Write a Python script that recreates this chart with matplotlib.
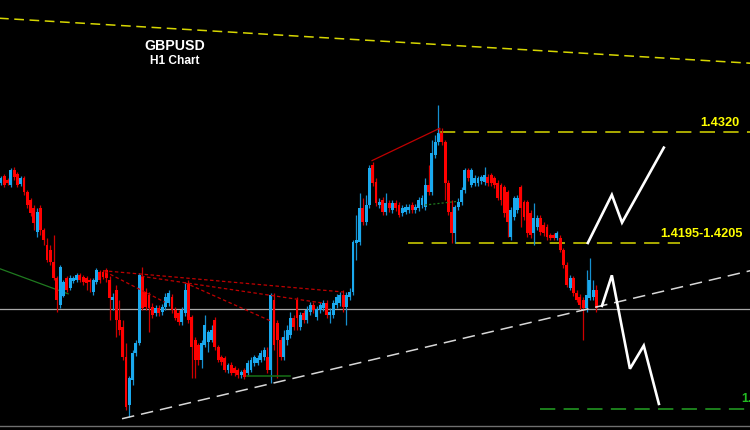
import numpy as np
import matplotlib
matplotlib.use('Agg')
import matplotlib.pyplot as plt

plt.rcParams['lines.scale_dashes'] = False

# ---------------- data (GBPUSD H1 candles) ----------------
opens = [1.4265,1.4272,1.4268,1.4263,1.4279,1.4275,1.4264,1.4270,1.4255,1.4246,
 1.4238,1.4212,1.4238,1.4214,1.4198,1.4192,1.4179,1.4162,1.4133,1.4143,
 1.4162,1.4151,1.4159,1.4160,1.4165,1.4163,1.4162,1.4160,1.4147,1.4158,
 1.4169,1.4169,1.4171,1.4160,1.4138,1.4149,1.4117,1.4109,1.4077,1.4025,
 1.4052,1.4081,1.4092,1.4163,1.4147,1.4144,1.4131,1.4124,1.4130,1.4125,
 1.4131,1.4135,1.4142,1.4128,1.4124,1.4115,1.4124,1.4157,1.4120,1.4095,
 1.4090,1.4073,1.4090,1.4093,1.4095,1.4117,1.4088,1.4077,1.4076,1.4063,
 1.4068,1.4065,1.4063,1.4057,1.4063,1.4059,1.4063,1.4070,1.4070,1.4073,
 1.4077,1.4077,1.4063,1.4138,1.4113,1.4095,1.4077,1.4095,1.4100,1.4119,
 1.4138,1.4109,1.4124,1.4117,1.4125,1.4133,1.4120,1.4128,1.4130,1.4135,
 1.4122,1.4122,1.4133,1.4135,1.4144,1.4131,1.4142,1.4147,1.4200,1.4201,
 1.4238,1.4223,1.4241,1.4284,1.4266,1.4241,1.4246,1.4233,1.4243,1.4236,
 1.4243,1.4241,1.4232,1.4233,1.4236,1.4241,1.4236,1.4238,1.4241,1.4239,
 1.4263,1.4255,1.4295,1.4309,1.4319,1.4309,1.4265,1.4233,1.4211,1.4239,
 1.4244,1.4257,1.4279,1.4263,1.4265,1.4265,1.4267,1.4266,1.4271,1.4273,
 1.4270,1.4265,1.4263,1.4260,1.4255,1.4206,1.4228,1.4236,1.4260,1.4244,
 1.4244,1.4232,1.4211,1.4217,1.4227,1.4219,1.4217,1.4209,1.4209,1.4205,
 1.4205,1.4192,1.4176,1.4151,1.4162,1.4146,1.4142,1.4138,1.4130,1.4140,
 1.4142,1.4149]

highs = [1.4272,1.4275,1.4270,1.4281,1.4282,1.4277,1.4272,1.4272,1.4257,1.4249,
 1.4241,1.4238,1.4241,1.4216,1.4205,1.4198,1.4209,1.4164,1.4176,1.4160,
 1.4164,1.4165,1.4164,1.4168,1.4168,1.4165,1.4164,1.4162,1.4162,1.4173,
 1.4171,1.4171,1.4173,1.4164,1.4146,1.4155,1.4138,1.4117,1.4092,1.4056,
 1.4084,1.4095,1.4168,1.4174,1.4151,1.4147,1.4135,1.4133,1.4133,1.4134,
 1.4146,1.4149,1.4145,1.4131,1.4128,1.4131,1.4157,1.4160,1.4122,1.4098,
 1.4092,1.4095,1.4122,1.4106,1.4111,1.4120,1.4090,1.4079,1.4078,1.4070,
 1.4071,1.4067,1.4065,1.4063,1.4065,1.4073,1.4077,1.4079,1.4079,1.4084,
 1.4088,1.4088,1.4146,1.4146,1.4117,1.4098,1.4106,1.4111,1.4125,1.4122,
 1.4142,1.4125,1.4128,1.4132,1.4136,1.4136,1.4132,1.4136,1.4138,1.4138,
 1.4130,1.4138,1.4145,1.4147,1.4149,1.4147,1.4151,1.4203,1.4230,1.4254,
 1.4249,1.4252,1.4284,1.4288,1.4270,1.4249,1.4250,1.4254,1.4246,1.4246,
 1.4246,1.4244,1.4241,1.4242,1.4242,1.4244,1.4242,1.4250,1.4252,1.4270,
 1.4284,1.4311,1.4317,1.4349,1.4324,1.4311,1.4268,1.4246,1.4241,1.4249,
 1.4260,1.4281,1.4281,1.4281,1.4273,1.4272,1.4273,1.4282,1.4275,1.4276,
 1.4272,1.4268,1.4265,1.4263,1.4257,1.4239,1.4251,1.4252,1.4263,1.4246,
 1.4246,1.4236,1.4243,1.4230,1.4230,1.4223,1.4220,1.4211,1.4211,1.4213,
 1.4209,1.4195,1.4179,1.4165,1.4164,1.4149,1.4145,1.4142,1.4171,1.4184,
 1.4160,1.4155]

lows = [1.4263,1.4260,1.4263,1.4260,1.4268,1.4260,1.4262,1.4252,1.4238,1.4229,
 1.4214,1.4206,1.4209,1.4198,1.4179,1.4176,1.4160,1.4125,1.4130,1.4142,
 1.4147,1.4149,1.4157,1.4158,1.4158,1.4155,1.4149,1.4147,1.4144,1.4156,
 1.4157,1.4161,1.4158,1.4117,1.4128,1.4098,1.4100,1.4073,1.4019,1.4012,
 1.4046,1.4078,1.4090,1.4128,1.4128,1.4104,1.4119,1.4121,1.4121,1.4122,
 1.4128,1.4132,1.4124,1.4117,1.4111,1.4111,1.4121,1.4113,1.4054,1.4054,
 1.4068,1.4065,1.4088,1.4082,1.4093,1.4084,1.4071,1.4068,1.4061,1.4059,
 1.4057,1.4056,1.4054,1.4054,1.4053,1.4056,1.4061,1.4067,1.4068,1.4071,
 1.4073,1.4059,1.4049,1.4084,1.4054,1.4073,1.4073,1.4090,1.4097,1.4106,
 1.4106,1.4106,1.4113,1.4113,1.4122,1.4124,1.4117,1.4124,1.4126,1.4119,
 1.4113,1.4119,1.4130,1.4132,1.4125,1.4111,1.4138,1.4144,1.4182,1.4198,
 1.4219,1.4219,1.4238,1.4262,1.4240,1.4238,1.4230,1.4230,1.4233,1.4232,
 1.4235,1.4228,1.4229,1.4231,1.4232,1.4232,1.4232,1.4235,1.4238,1.4236,
 1.4252,1.4252,1.4292,1.4306,1.4306,1.4246,1.4230,1.4200,1.4200,1.4236,
 1.4241,1.4254,1.4267,1.4260,1.4262,1.4262,1.4264,1.4263,1.4262,1.4262,
 1.4259,1.4246,1.4241,1.4228,1.4206,1.4203,1.4225,1.4232,1.4217,1.4225,
 1.4206,1.4205,1.4198,1.4214,1.4209,1.4207,1.4203,1.4203,1.4203,1.4203,
 1.4190,1.4173,1.4152,1.4149,1.4143,1.4136,1.4128,1.4095,1.4125,1.4138,
 1.4138,1.4125]

closes = [1.4270,1.4263,1.4265,1.4279,1.4271,1.4263,1.4270,1.4255,1.4241,1.4232,
 1.4222,1.4233,1.4214,1.4203,1.4182,1.4179,1.4162,1.4138,1.4174,1.4158,
 1.4149,1.4162,1.4162,1.4165,1.4160,1.4158,1.4157,1.4158,1.4160,1.4171,
 1.4160,1.4163,1.4162,1.4140,1.4142,1.4117,1.4106,1.4077,1.4023,1.4054,
 1.4081,1.4092,1.4165,1.4130,1.4131,1.4130,1.4122,1.4130,1.4124,1.4131,
 1.4142,1.4146,1.4128,1.4119,1.4115,1.4128,1.4149,1.4117,1.4088,1.4073,
 1.4073,1.4092,1.4111,1.4104,1.4106,1.4088,1.4073,1.4071,1.4063,1.4068,
 1.4059,1.4059,1.4057,1.4061,1.4055,1.4070,1.4073,1.4077,1.4076,1.4081,
 1.4084,1.4063,1.4144,1.4090,1.4095,1.4077,1.4098,1.4106,1.4119,1.4109,
 1.4119,1.4122,1.4117,1.4128,1.4133,1.4128,1.4129,1.4133,1.4135,1.4122,
 1.4125,1.4135,1.4142,1.4144,1.4131,1.4144,1.4147,1.4201,1.4203,1.4238,
 1.4223,1.4241,1.4281,1.4265,1.4243,1.4244,1.4233,1.4243,1.4238,1.4243,
 1.4238,1.4230,1.4238,1.4239,1.4239,1.4236,1.4239,1.4246,1.4249,1.4263,
 1.4255,1.4297,1.4309,1.4319,1.4309,1.4265,1.4233,1.4211,1.4239,1.4244,
 1.4257,1.4279,1.4270,1.4279,1.4270,1.4270,1.4271,1.4273,1.4265,1.4265,
 1.4263,1.4249,1.4246,1.4232,1.4223,1.4236,1.4249,1.4249,1.4238,1.4228,
 1.4211,1.4209,1.4227,1.4227,1.4212,1.4211,1.4206,1.4205,1.4205,1.4211,
 1.4192,1.4176,1.4155,1.4162,1.4146,1.4138,1.4133,1.4130,1.4144,1.4160,
 1.4149,1.4130]

# drawn objects: (bar index, price)
top_trend_x, top_trend_y = [-1, 229], [1.4443, 1.4394]
support_x, support_y = [36.8, 229], [1.4010, 1.4171]
current_price = 1.4129
resistance_level, resistance_x = 1.4320, [133.4, 229]
pivot_level, pivot_x = 1.4200, [123.7, 206.4]
target_level, target_x = 1.4020, [163.8, 229]
ma_x, ma_y = [-1, 20.4], [1.4173, 1.4145]
red_trend_x, red_trend_y = [112.8, 133.4, 133.4], [1.4289, 1.4324, 1.4319]
red_dot_lines = [
    ([31.0, 104.0], [1.4170, 1.4147]),
    ([42.6, 97.9], [1.4164, 1.4135]),
    ([31.6, 49.8], [1.4169, 1.4136]),
    ([55.9, 82.4], [1.4157, 1.4115]),
]
green_dot_x, green_dot_y = [128.9, 138.9], [1.4241, 1.4245]
green_base_x, green_base_y = [74.8, 87.8], [1.4056, 1.4056]
zig_up_x = [178.4, 185.7, 188.8, 201.5]
zig_up_y = [1.4200, 1.4252, 1.4222, 1.4303]
zig_dn_x = [182.7, 185.7, 191.2, 195.4, 200.0]
zig_dn_y = [1.4132, 1.4165, 1.4064, 1.4089, 1.4026]
bottom_border = 1.40021

# ---------------- figure ----------------
fig = plt.figure(figsize=(7.5, 4.3), dpi=100, facecolor='black')
ax = fig.add_axes([0, 0, 1, 1])
ax.set_facecolor('black')
ax.set_xlim(-0.3, 227.7)
ax.set_ylim(1.39978, 1.44626)
ax.axis('off')

o = np.array(opens); h = np.array(highs); l = np.array(lows); c = np.array(closes)
idx = np.arange(len(o))
bull = c >= o
BLUE = '#1aa9ee'
RED = '#ff0000'
body_col = np.where(bull, BLUE, RED)
wick_col = np.where(bull, '#1690d0', '#d00000')

ax.vlines(idx, l, h, colors=wick_col, linewidth=0.9, zorder=3)
bottoms = np.minimum(o, c)
heights = np.maximum(np.abs(c - o), 0.00012)
ax.bar(idx, heights, bottom=bottoms, width=0.88, color=body_col,
       linewidth=0, zorder=4)

# horizontal / trend lines
ax.plot(top_trend_x, top_trend_y, color='#d6d600', lw=1.1, dashes=(7, 4), zorder=2)
ax.axhline(current_price, color='#a8a8a8', lw=0.9, zorder=2)
ax.axhline(bottom_border, color='#707070', lw=1.0, zorder=2)
ax.plot(support_x, support_y, color='#d8d8d8', lw=1.1, dashes=(9, 5), zorder=5)
ax.plot(resistance_x, [resistance_level] * 2, color='#b8b800', lw=1.3, dashes=(11, 6), zorder=2)
ax.plot(pivot_x, [pivot_level] * 2, color='#b8b800', lw=1.3, dashes=(11, 6), zorder=2)
ax.plot(target_x, [target_level] * 2, color='#1e8a1e', lw=1.3, dashes=(11, 6), zorder=2)
ax.plot(ma_x, ma_y, color='#1f7a1f', lw=0.9, zorder=2)
ax.plot(red_trend_x, red_trend_y, color='#c00000', lw=0.9, zorder=5)
for xs, ys in red_dot_lines:
    ax.plot(xs, ys, color='#c00000', lw=0.9, dashes=(2.5, 1.8), zorder=5)
ax.plot(green_dot_x, green_dot_y, color='#1f7a1f', lw=0.9, dashes=(1.5, 1.5), zorder=5)
ax.plot(green_base_x, green_base_y, color='#156815', lw=1.2, zorder=5)

# projection zigzags
ax.plot(zig_up_x, zig_up_y, color='white', lw=1.9, zorder=6, solid_joinstyle='miter')
ax.plot(zig_dn_x, zig_dn_y, color='white', lw=1.9, zorder=6, solid_joinstyle='miter')

# texts
FONT = 'Liberation Sans'
ax.text(0.233, 0.893, 'GBPUSD', transform=ax.transAxes, color='white',
        fontsize=10.2, fontweight='bold', family=FONT, ha='center', va='center')
ax.text(0.233, 0.858, 'H1 Chart', transform=ax.transAxes, color='white',
        fontsize=8.6, fontweight='bold', family=FONT, ha='center', va='center')
ax.annotate('1.4320', (224.6, resistance_level), xytext=(0, 2), textcoords='offset points',
            color='#ffff00', fontsize=9.2, fontweight='bold', family=FONT,
            ha='right', va='bottom')
ax.annotate('1.4195-1.4205', (225.5, pivot_level), xytext=(0, 2), textcoords='offset points',
            color='#ffff00', fontsize=9.2, fontweight='bold', family=FONT,
            ha='right', va='bottom')
ax.annotate('1.4020', (224.9, target_level), xytext=(0, 3), textcoords='offset points',
            color='#22bb22', fontsize=9.2, fontweight='bold', family=FONT,
            ha='left', va='bottom', annotation_clip=False)

fig.savefig('out.png', dpi=100, facecolor='black')
